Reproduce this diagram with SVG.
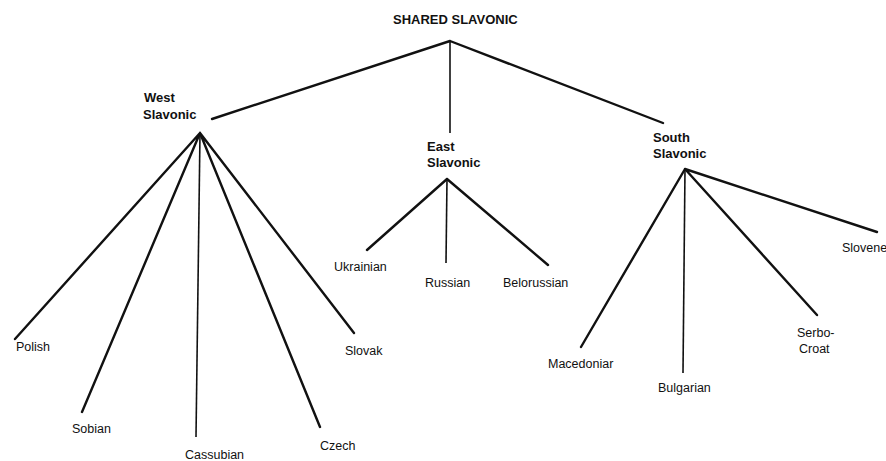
<svg xmlns="http://www.w3.org/2000/svg" width="886" height="461" viewBox="0 0 886 461">
<style>
.e{stroke:#111;stroke-width:2.4;stroke-linecap:round;fill:none}
.v{stroke:#111;stroke-width:1.6;fill:none}
.h{font-family:"Liberation Sans",Arial,sans-serif;font-weight:bold;font-size:13px;fill:#111}
.l{font-family:"Liberation Sans",Arial,sans-serif;font-size:12.5px;fill:#111}
</style>
<rect width="886" height="461" fill="#fff"/>
<g id="connectors">
<path class="e" d="M450 41 L212 119 M450 41 L663 123"/>
<path class="v" d="M450 41 L450 133"/>
<path class="e" d="M200 133 L15 339 M200 133 L82 412 M200 133 L320 427 M200 133 L354 333"/>
<path class="v" d="M200 133 L196 437"/>
<path class="e" d="M447 179 L367 250 M447 179 L548 265"/>
<path class="v" d="M447 179 L446 263"/>
<path class="e" d="M685 169 L581 347 M685 169 L817 315 M685 169 L877 232"/>
<path class="v" d="M685 169 L683 373"/>
</g>
<g id="root"><text class="h" x="393" y="24">SHARED SLAVONIC</text></g>
<g id="west"><text class="h" x="144" y="102">West</text><text class="h" x="143" y="119">Slavonic</text></g>
<g id="east"><text class="h" x="427" y="151">East</text><text class="h" x="427" y="167">Slavonic</text></g>
<g id="south"><text class="h" x="653" y="142">South</text><text class="h" x="653" y="158">Slavonic</text></g>
<g id="polish"><text class="l" x="16" y="351">Polish</text></g>
<g id="sobian"><text class="l" x="72" y="433">Sobian</text></g>
<g id="cassubian"><text class="l" x="185" y="459">Cassubian</text></g>
<g id="czech"><text class="l" x="320" y="450">Czech</text></g>
<g id="slovak"><text class="l" x="345" y="355">Slovak</text></g>
<g id="ukrainian"><text class="l" x="334" y="271">Ukrainian</text></g>
<g id="russian"><text class="l" x="425" y="287">Russian</text></g>
<g id="belorussian"><text class="l" x="503" y="287">Belorussian</text></g>
<g id="macedonian"><text class="l" x="548" y="368">Macedoniar</text></g>
<g id="bulgarian"><text class="l" x="658" y="392">Bulgarian</text></g>
<g id="serbocroat"><text class="l" x="797" y="337">Serbo-</text><text class="l" x="799" y="353">Croat</text></g>
<g id="slovene"><text class="l" x="842" y="252">Slovene</text></g>
</svg>
